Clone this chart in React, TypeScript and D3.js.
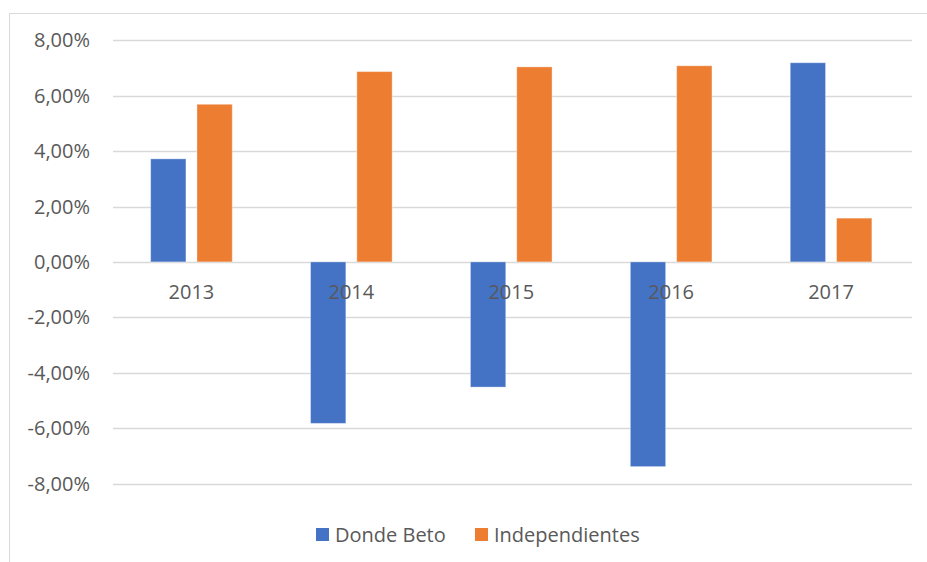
import React from "react";
import * as d3 from "d3";

const years = ["2013", "2014", "2015", "2016", "2017"];
const seriesNames = ["Donde Beto", "Independientes"];
const dondeBeto = [3.72, -5.83, -4.52, -7.39, 7.19];
const independientes = [5.69, 6.87, 7.04, 7.08, 1.58];
const yTicks = [8, 6, 4, 2, 0, -2, -4, -6, -8];
const colors = ["#4472C4", "#ED7D31"];

const W = 927;
const H = 562;
const FONT = "'Open Sans', sans-serif";
const TEXT = "#595959";
const FS = 20;

export default function App() {
  const left = 111.5;
  const right = 911;
  const y = d3.scaleLinear().domain([-8, 8]).range([483.5, 40.3]);
  const x0 = d3.scaleBand<string>().domain(years).range([left, right]).paddingInner(0).paddingOuter(0);
  const bw = x0.bandwidth();
  const x1 = d3
    .scaleBand<string>()
    .domain(seriesNames)
    .range([bw / 2 - 40.8, bw / 2 + 40.8])
    .paddingInner(0.238)
    .paddingOuter(0);
  const data = [dondeBeto, independientes];
  const fmt = (v: number) => d3.format(".2f")(v).replace(".", ",").replace("−", "-") + "%";

  const legendItems = [
    { name: seriesNames[0], x: 316, color: colors[0] },
    { name: seriesNames[1], x: 475, color: colors[1] },
  ];

  return (
    <svg
      width={W}
      height={H}
      style={{ position: "absolute", left: 0, top: 0, background: "#fff" }}
      fontFamily={FONT}
    >
      <rect x={9.5} y={13.5} width={W + 20} height={H + 20} fill="#fff" stroke="#d9d9d9" strokeWidth={1} />
      {yTicks.map((t) => (
        <g key={t}>
          <line x1={left + 1.5} x2={right + 1} y1={Math.round(y(t)) + 0.5} y2={Math.round(y(t)) + 0.5} stroke="#d9d9d9" strokeWidth={1.3} />
          <text x={90} y={y(t)} dy="0.35em" textAnchor="end" fontSize={FS} fill={TEXT}>
            {fmt(t)}
          </text>
        </g>
      ))}
      {years.map((yr, i) => (
        <g key={yr} transform={`translate(${x0(yr)},0)`}>
          {seriesNames.map((s, j) => {
            const v = data[j][i];
            const y0 = y(0);
            const yv = y(v);
            return (
              <rect
                key={s}
                x={x1(s)}
                width={x1.bandwidth()}
                y={Math.min(y0, yv)}
                height={Math.abs(yv - y0)}
                fill={colors[j]}
                stroke="#fff"
                strokeOpacity={0.35}
                strokeWidth={1}
              />
            );
          })}
        </g>
      ))}
      {years.map((yr) => (
        <text key={yr} x={(x0(yr) as number) + bw / 2} y={292} dy="0.35em" textAnchor="middle" fontSize={FS} fill={TEXT}>
          {yr}
        </text>
      ))}
      {legendItems.map((l) => (
        <g key={l.name}>
          <rect x={l.x} y={528} width={13} height={13} fill={l.color} />
          <text x={l.x + 19} y={534.5} dy="0.35em" fontSize={FS} fill={TEXT}>
            {l.name}
          </text>
        </g>
      ))}
    </svg>
  );
}
